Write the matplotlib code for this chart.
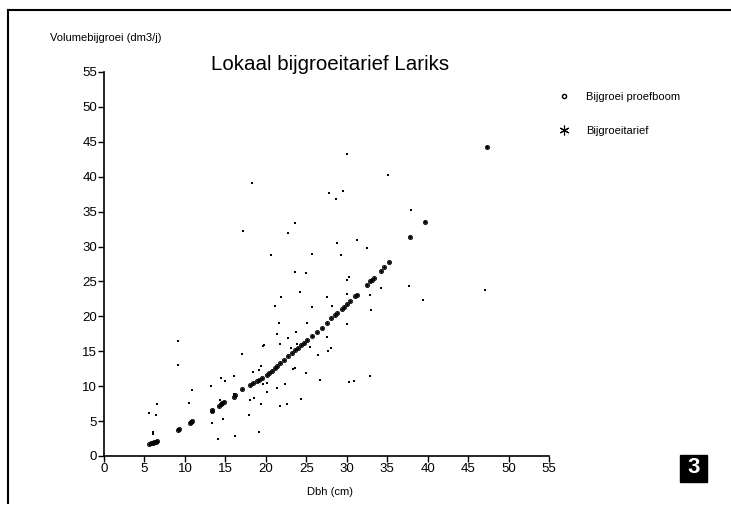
import matplotlib
matplotlib.use("Agg")
from matplotlib import pyplot as plt
from matplotlib.lines import Line2D
from matplotlib.patches import Rectangle

plt.rcParams['font.family'] = ['Liberation Sans', 'DejaVu Sans']

# measured increment per sample tree (dbh cm, volume increment dm3/yr)
obs_dbh = [9.2, 9.1, 10.9, 13.2, 10.5, 6.5, 5.5, 6.4, 6.0, 6.0, 13.3, 14.3, 14.75, 14.1,
           16.2, 17.9, 19.2, 19.4, 21.8, 22.6, 18.0, 18.5, 24.3, 21.1, 25.7, 28.2, 30.0,
           21.6, 25.1, 23.7, 21.4, 22.7, 21.7, 23.9, 27.6, 25.5, 23.1, 27.7, 28.1, 26.4,
           19.6, 19.8, 17.0, 18.4, 19.1, 19.4, 23.3, 23.6, 25.0, 26.7, 30.3, 30.9, 32.9,
           16.0, 19.6, 20.1, 21.4, 22.3, 20.1, 18.3, 27.8, 29.5, 28.6, 23.6, 17.2, 22.7,
           28.8, 20.6, 25.7, 29.3, 23.6, 25.0, 30.0, 30.3, 24.2, 21.9, 27.5, 30.0, 30.0,
           35.1, 37.9, 31.3, 32.5, 32.5, 34.2, 37.7, 32.8, 33.0, 39.4, 47.1, 37.8, 39.6,
           47.3, 9.2, 13.3, 14.5, 16.1, 15.0]
obs_vol = [16.4, 13.0, 9.4, 10.0, 7.6, 7.4, 6.1, 5.8, 3.5, 3.1, 4.7, 8.0, 5.3, 2.4,
           2.9, 5.8, 3.5, 7.45, 7.2, 7.45, 8.0, 8.3, 8.2, 21.5, 21.3, 21.5, 18.9,
           19.1, 19.0, 17.7, 17.4, 16.9, 16.1, 16.1, 17.1, 15.6, 15.5, 15.1, 15.4, 14.5,
           15.7, 15.9, 14.6, 12.1, 12.3, 12.9, 12.5, 12.65, 11.85, 10.9, 10.6, 10.75, 11.5,
           11.4, 10.3, 10.5, 9.8, 10.3, 9.1, 39.1, 37.7, 38.0, 36.8, 33.4, 32.2, 32.0,
           30.5, 28.8, 28.9, 28.8, 26.4, 26.2, 25.2, 25.6, 23.5, 22.7, 22.8, 23.2, 43.3,
           40.3, 35.2, 31.0, 29.8, 24.45, 24.1, 24.3, 23.1, 20.9, 22.4, 23.8, 31.3, 33.5,
           44.2, 3.8, 6.4, 11.2, 8.9, 10.8]

# local increment tariff evaluated at each tree
tar_dbh = [5.6, 5.8, 6.0, 6.2, 6.4, 6.6, 9.2, 9.3, 10.6, 10.8, 10.9, 13.3, 13.4, 14.2,
           14.4, 14.6, 14.8, 16.0, 16.2, 17.1, 18.0, 18.45, 18.9, 19.2, 19.5, 20.1, 20.4,
           20.7, 21.1, 21.4, 21.75, 22.2, 22.7, 23.2, 23.6, 24.0, 24.35, 24.7, 25.05,
           25.7, 26.3, 26.9, 27.5, 28.1, 28.55, 28.8, 29.4, 29.7, 30.0, 30.4, 31.0, 31.2,
           32.5, 32.9, 33.1, 33.3, 34.2, 34.6, 35.2, 37.8, 39.6, 47.3]
tar_vol = [1.75, 1.85, 1.9, 2.0, 2.05, 2.15, 3.75, 3.85, 4.7, 4.85, 5.0, 6.4, 6.55, 7.2,
           7.4, 7.55, 7.7, 8.5, 8.7, 9.55, 10.1, 10.4, 10.75, 10.9, 11.1, 11.6, 11.9,
           12.2, 12.55, 12.9, 13.3, 13.8, 14.3, 14.8, 15.2, 15.5, 15.9, 16.2, 16.6,
           17.2, 17.8, 18.4, 19.1, 19.7, 20.2, 20.5, 21.1, 21.4, 21.8, 22.2, 22.9, 23.1,
           24.5, 25.0, 25.2, 25.5, 26.5, 27.1, 27.8, 31.3, 33.5, 44.2]

ticks = list(range(0, 56, 5))

fig = plt.figure(figsize=(7.31, 5.08), dpi=100)
ax = fig.add_axes([0.1423, 0.1024, 0.609, 0.7559])

ax.plot(obs_dbh, obs_vol, 's', color='black', markersize=1.6, markeredgewidth=0)
ax.plot(tar_dbh, tar_vol, 'o', mfc='none', mec='black', markersize=3.0, markeredgewidth=0.6)
ax.plot(tar_dbh, tar_vol, marker=(6, 2, 0), ls='none', color='black', markersize=2.4, markeredgewidth=0.4)

ax.set_xlim(0, 55)
ax.set_ylim(0, 55)
ax.set_xticks(ticks)
ax.set_yticks(ticks)
ax.spines['top'].set_visible(False)
ax.spines['right'].set_visible(False)
ax.spines['left'].set_linewidth(1.2)
ax.spines['bottom'].set_linewidth(1.2)
ax.tick_params(labelsize=9.5, length=4, width=1, pad=1)

fig.text(0.068, 0.925, 'Volumebijgroei (dm3/j)', fontsize=8, ha='left', va='center')
fig.text(0.452, 0.874, 'Lokaal bijgroeitarief Lariks', fontsize=14.8, ha='center', va='center')
fig.text(0.452, 0.032, 'Dbh (cm)', fontsize=8, ha='center', va='center')

handles = [
    Line2D([], [], marker='o', ls='none', mfc='none', mec='black', markersize=3, markeredgewidth=1),
    Line2D([], [], marker=(6, 2, 0), ls='none', color='black', markersize=7, markeredgewidth=0.8),
]
fig.legend(handles, ['Bijgroei proefboom', 'Bijgroeitarief'], loc='upper left',
           bbox_to_anchor=(0.742, 0.838), frameon=False, fontsize=8, labelspacing=2.1,
           handletextpad=1.0)

# page frame and figure number
fig.add_artist(Line2D([0.011, 0.011], [0.01, 0.98], color='black', lw=1.5))
fig.add_artist(Line2D([0.011, 1.0], [0.98, 0.98], color='black', lw=1.5))
fig.add_artist(Rectangle((0.930, 0.052), 0.037, 0.053, color='black', transform=fig.transFigure))
fig.text(0.9485, 0.079, '3', color='white', fontsize=16, fontweight='bold', ha='center', va='center')

fig.savefig('out.png', dpi=100)
